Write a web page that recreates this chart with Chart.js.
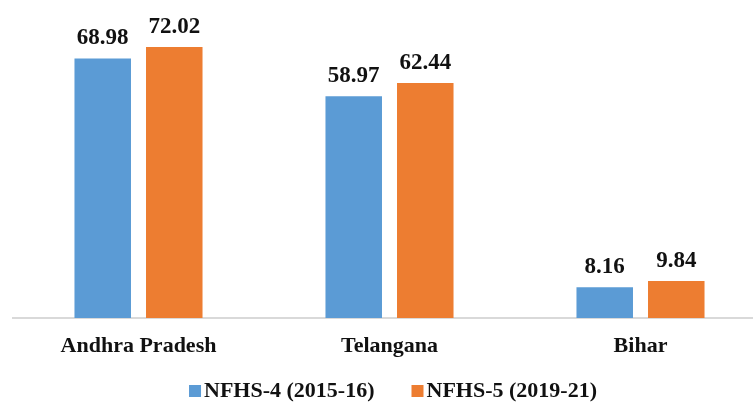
<!DOCTYPE html>
<html lang="en">
<head>
    <meta charset="UTF-8">
    <title>NFHS-4 vs NFHS-5</title>
    <script src="https://cdn.jsdelivr.net/npm/chart.js"></script>
    <style>
        body {
            margin: 0;
            background: #fff;
        }
        #wrap {
            width: 753px;
            height: 402px;
            overflow: hidden;
        }
    </style>
</head>
<body>
    <div id="wrap">
        <canvas id="chart" width="780" height="402"></canvas>
    </div>

    <script>
        const states = ['Andhra Pradesh', 'Telangana', 'Bihar'];
        const nfhs4 = [68.98, 58.97, 8.16];
        const nfhs5 = [72.02, 62.44, 9.84];
        const seriesNames = ['NFHS-4 (2015-16)', 'NFHS-5 (2019-21)'];

        const serif = '"Liberation Serif", "Times New Roman", serif';
        const textColor = '#111';

        // value labels above each bar
        const barLabels = {
            id: 'barLabels',
            afterDatasetsDraw(chart) {
                const ctx = chart.ctx;
                ctx.save();
                ctx.font = 'bold 23px ' + serif;
                ctx.fillStyle = textColor;
                ctx.textAlign = 'center';
                ctx.textBaseline = 'alphabetic';
                chart.data.datasets.forEach((ds, i) => {
                    chart.getDatasetMeta(i).data.forEach((bar, j) => {
                        ctx.fillText(ds.data[j].toFixed(2), bar.x, bar.y - 14);
                    });
                });
                ctx.restore();
            }
        };

        // legend drawn by hand so the square sits close to its text
        const bottomLegend = {
            id: 'bottomLegend',
            afterDraw(chart) {
                const ctx = chart.ctx;
                const box = 12, gap = 3, spacing = 37;
                const baseline = 397;
                ctx.save();
                ctx.font = 'bold 22px ' + serif;
                ctx.textBaseline = 'alphabetic';
                ctx.textAlign = 'left';
                const items = chart.data.datasets.map(ds => ({
                    text: ds.label,
                    color: ds.backgroundColor,
                    w: box + gap + ctx.measureText(ds.label).width
                }));
                const total = items.reduce((s, it) => s + it.w, 0) + spacing * (items.length - 1);
                let x = 393 - total / 2;
                items.forEach(it => {
                    ctx.fillStyle = it.color;
                    ctx.fillRect(x, baseline - box, box, box);
                    ctx.fillStyle = textColor;
                    ctx.fillText(it.text, x + box + gap, baseline);
                    x += it.w + spacing;
                });
                ctx.restore();
            }
        };

        new Chart(document.getElementById('chart'), {
            type: 'bar',
            data: {
                labels: states,
                datasets: [
                    { label: seriesNames[0], data: nfhs4, backgroundColor: '#5B9BD5' },
                    { label: seriesNames[1], data: nfhs5, backgroundColor: '#ED7D31' }
                ]
            },
            options: {
                responsive: false,
                animation: false,
                categoryPercentage: 0.57,
                barPercentage: 0.79,
                layout: { padding: { left: 13, right: 14, top: 17, bottom: 34 } },
                plugins: {
                    legend: { display: false },
                    tooltip: { enabled: false }
                },
                scales: {
                    x: {
                        afterFit: (scale) => { scale.height = 50; },
                        grid: { display: false, drawTicks: false },
                        border: { color: '#d9d9d9', width: 2 },
                        ticks: {
                            padding: 17,
                            color: textColor,
                            font: { family: serif, size: 22, weight: 'bold', lineHeight: 1 }
                        }
                    },
                    y: {
                        display: false,
                        min: 0,
                        max: 80
                    }
                }
            },
            plugins: [barLabels, bottomLegend]
        });
    </script>
</body>
</html>
